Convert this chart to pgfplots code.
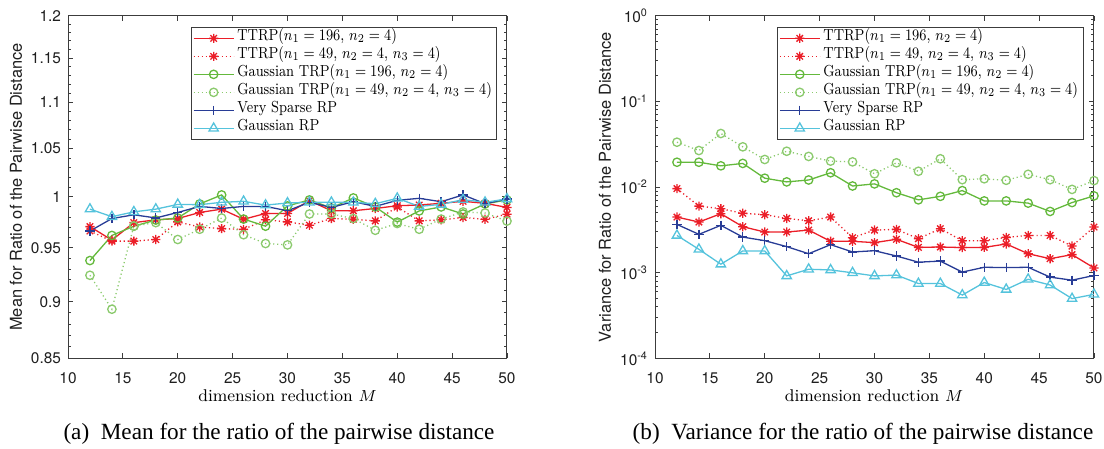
\documentclass[border=0pt]{standalone}
\usepackage{fontspec}
\usepackage{graphicx}
\usepackage{pgfplots}
\pgfplotsset{compat=1.18}
\newfontfamily\helv{TeX Gyre Heros}
\newfontfamily\tnr{Liberation Serif}
\newcommand\legtxt[1]{\scalebox{0.845}[1]{#1}}
\definecolor{cRed}{RGB}{235,30,40}
\definecolor{cGreen}{RGB}{100,185,60}
\definecolor{cBlue}{RGB}{40,60,150}
\definecolor{cCyan}{RGB}{85,195,220}
\definecolor{axgray}{RGB}{60,60,60}
\pgfdeclareplotmark{mstar}{%
  \pgfpathmoveto{\pgfqpoint{-\pgfplotmarksize}{0pt}}\pgfpathlineto{\pgfqpoint{\pgfplotmarksize}{0pt}}%
  \pgfpathmoveto{\pgfqpoint{0pt}{-\pgfplotmarksize}}\pgfpathlineto{\pgfqpoint{0pt}{\pgfplotmarksize}}%
  \pgfpathmoveto{\pgfqpoint{-0.707\pgfplotmarksize}{-0.707\pgfplotmarksize}}\pgfpathlineto{\pgfqpoint{0.707\pgfplotmarksize}{0.707\pgfplotmarksize}}%
  \pgfpathmoveto{\pgfqpoint{-0.707\pgfplotmarksize}{0.707\pgfplotmarksize}}\pgfpathlineto{\pgfqpoint{0.707\pgfplotmarksize}{-0.707\pgfplotmarksize}}%
  \pgfusepathqstroke}
\pgfplotsset{
  mystyle/.style={
    scale only axis, width=219.5pt, height=171.4pt,
    xmin=10, xmax=50, xtick={10,15,20,25,30,35,40,45,50},
    axis line style={draw=axgray, line width=0.5pt},
    every tick/.style={draw=axgray, line width=0.45pt},
    major tick length=2.6pt, minor tick length=1.5pt,
    tick label style={font=\helv\fontsize{7.7}{8}\selectfont, text=black!88},
    /pgf/number format/assume math mode=true,
    xticklabel style={yshift=-3.5pt},
    legend cell align=left,
    legend style={font=\fontsize{8}{9}\selectfont, draw=axgray, line width=0.5pt, fill=white,
      anchor=north east, inner xsep=1pt, inner ysep=1pt, row sep=0pt, outer sep=0pt,
      nodes={inner xsep=1.5pt, inner ysep=0pt, text height=5.6pt, text depth=3.4pt}},
    legend image code/.code={\draw[mark repeat=2,mark phase=2] plot coordinates {(0pt,0pt) (10pt,0pt) (20pt,0pt)};},
  },
  sA/.style={cRed, line width=0.65pt, mark=mstar, mark size=2.3pt, mark options={solid}},
  sB/.style={cRed, line width=0.65pt, dash pattern=on 0.6pt off 1.4pt, mark=mstar, mark size=2.3pt, mark options={solid}},
  sC/.style={cGreen, line width=0.65pt, mark=o, mark size=2.1pt, mark options={solid}},
  sD/.style={cGreen!75, line width=0.65pt, dash pattern=on 0.6pt off 1.4pt, mark=o, mark size=2.1pt, mark options={solid}},
  sE/.style={cBlue, line width=0.65pt, mark=+, mark size=2.3pt, mark options={solid}},
  sF/.style={cCyan, line width=0.65pt, mark=triangle, mark size=2.7pt, mark options={solid}},
}
\pgfplotstableread{
M   a       b       c      d      e      f
12  0.9706  0.9663  0.938  0.9242 0.9663 0.9878
14  0.9575  0.9565  0.962  0.8932 0.9785 0.9803
16  0.9745  0.9565  0.971  0.9712 0.9822 0.9851
18  0.9772  0.9581  0.977  0.9745 0.9791 0.9878
20  0.9785  0.9752  0.979  0.9581 0.9845 0.9925
22  0.9845  0.9702  0.993  0.9680 0.9905 0.9922
24  0.9878  0.9686  1.002  0.9790 0.9885 0.9946
26  0.9778  0.9679  0.978  0.9627 0.9905 0.9956
28  0.9835  0.9772  0.971  0.9542 0.9905 0.9918
30  0.9835  0.9752  0.991  0.9529 0.9862 0.9939
32  0.9963  0.9719  0.997  0.9830 0.9946 0.9946
34  0.9862  0.9785  0.989  0.9830 0.9895 0.9946
36  0.9862  0.9778  0.999  0.9785 0.9952 0.9946
38  0.9885  0.9762  0.990  0.9670 0.9905 0.9932
40  0.9912  0.9899  0.975  0.9736 0.9966 0.9986
42  0.9919  0.9762  0.986  0.9680 0.9986 0.9905
44  0.9936  0.9772  0.990  0.9780 0.9952 0.9925
46  0.9956  0.9795  0.983  0.9850 1.0020 0.9973
48  0.9936  0.9778  0.993  0.9840 0.9932 0.9946
50  0.9895  0.9828  0.997  0.9760 0.9980 0.9980
}\meantab
\pgfplotstableread{
M   a        b        c       d       e        f
12  0.00447  0.0096   0.0195  0.0334  0.00367  0.00273
14  0.00391  0.0060   0.0195  0.0267  0.00281  0.00188
16  0.00489  0.0056   0.0177  0.0422  0.00358  0.00126
18  0.00345  0.00494  0.0189  0.0295  0.00261  0.00180
20  0.00299  0.00476  0.0127  0.0210  0.00237  0.00180
22  0.00299  0.00431  0.0115  0.0262  0.00202  0.00092
24  0.00315  0.00405  0.0121  0.0228  0.00167  0.00110
26  0.00233  0.00447  0.0147  0.0201  0.00213  0.00108
28  0.00233  0.00257  0.0103  0.0197  0.00175  0.00100
30  0.00225  0.00315  0.0109  0.0143  0.00181  0.00092
32  0.00246  0.00321  0.0086  0.0192  0.00157  0.00094
34  0.00198  0.00250  0.0071  0.0153  0.00133  0.00075
36  0.00200  0.00327  0.0078  0.0214  0.00137  0.00075
38  0.00197  0.00237  0.0091  0.0122  0.00102  0.00055
40  0.00198  0.00237  0.0069  0.0125  0.00116  0.00077
42  0.00217  0.00259  0.0069  0.0120  0.00115  0.00064
44  0.00167  0.00273  0.0065  0.0141  0.00116  0.00084
46  0.00146  0.00273  0.0052  0.0122  0.00089  0.00072
48  0.00163  0.00205  0.0066  0.0094  0.00082  0.00050
50  0.00114  0.00342  0.0079  0.0119  0.00093  0.00056
}\vartab
\begin{document}
\begin{tikzpicture}
\useasboundingbox (0,0) rectangle (552pt,224.5pt);
\begin{axis}[ymode=log, mystyle, at={(34pt,45.25pt)}, anchor=south west,
  ymin=0.85, ymax=1.2,
  ytick={0.85,0.9,0.95,1,1.05,1.1,1.15,1.2},
  yticklabels={0.85,0.9,0.95,1,1.05,1.1,1.15,1.2},
  minor ytick={0.86,0.87,0.88,0.89,0.91,0.92,0.93,0.94,0.96,0.97,0.98,0.99,1.01,1.02,1.03,1.04,1.06,1.07,1.08,1.09,1.11,1.12,1.13,1.14,1.16,1.17,1.18,1.19},
  legend style={at={(0.977,0.966)}},
]
\addplot[sA] table[x=M,y=a] {\meantab};
\addplot[sB] table[x=M,y=b] {\meantab};
\addplot[sC] table[x=M,y=c] {\meantab};
\addplot[sD] table[x=M,y=d] {\meantab};
\addplot[sE] table[x=M,y=e] {\meantab};
\addplot[sF] table[x=M,y=f] {\meantab};
\legend{{\legtxt{TTRP$(n_1=196$, $n_2=4)$}}, {\legtxt{TTRP$(n_1=49$, $n_2=4$, $n_3=4)$}}, {\legtxt{Gaussian TRP$(n_1=196$, $n_2=4)$}}, {\legtxt{Gaussian TRP$(n_1=49$, $n_2=4$, $n_3=4)$}}, {\legtxt{Very Sparse RP}}, {\legtxt{Gaussian RP}}}
\end{axis}
\begin{axis}[ymode=log, mystyle, at={(327.5pt,45.25pt)}, anchor=south west,
  ymin=1e-4, ymax=1,
  ytick={1e-4,1e-3,1e-2,1e-1,1},
  yticklabels={10\textsuperscript{-4},10\textsuperscript{-3},10\textsuperscript{-2},10\textsuperscript{-1},10\textsuperscript{0}},
  minor ytick={2e-4,3e-4,4e-4,5e-4,6e-4,7e-4,8e-4,9e-4,2e-3,3e-3,4e-3,5e-3,6e-3,7e-3,8e-3,9e-3,2e-2,3e-2,4e-2,5e-2,6e-2,7e-2,8e-2,9e-2,2e-1,3e-1,4e-1,5e-1,6e-1,7e-1,8e-1,9e-1},
  legend style={at={(0.975,0.966)}},
]
\addplot[sA] table[x=M,y=a] {\vartab};
\addplot[sB] table[x=M,y=b] {\vartab};
\addplot[sC] table[x=M,y=c] {\vartab};
\addplot[sD] table[x=M,y=d] {\vartab};
\addplot[sE] table[x=M,y=e] {\vartab};
\addplot[sF] table[x=M,y=f] {\vartab};
\legend{{\legtxt{TTRP$(n_1=196$, $n_2=4)$}}, {\legtxt{TTRP$(n_1=49$, $n_2=4$, $n_3=4)$}}, {\legtxt{Gaussian TRP$(n_1=196$, $n_2=4)$}}, {\legtxt{Gaussian TRP$(n_1=49$, $n_2=4$, $n_3=4)$}}, {\legtxt{Very Sparse RP}}, {\legtxt{Gaussian RP}}}
\end{axis}
\node[rotate=90, font=\helv\fontsize{8.2}{9}\selectfont, text=black!88] at (8pt,131pt) {Mean for Ratio of the Pairwise Distance};
\node[rotate=90, font=\helv\fontsize{8.2}{9}\selectfont, text=black!88] at (302.5pt,131pt) {Variance for Ratio of the Pairwise Distance};
\node[anchor=base, font=\fontsize{8.5}{10}\selectfont] at (143.75pt,23.6pt) {dimension reduction $M$};
\node[anchor=base, font=\fontsize{8.5}{10}\selectfont] at (437pt,23.6pt) {dimension reduction $M$};
\node[anchor=base, font=\tnr\fontsize{11.6}{13}\selectfont] at (139.5pt,4.5pt) {(a)\enspace Mean for the ratio of the pairwise distance};
\node[anchor=base, font=\tnr\fontsize{11.6}{13}\selectfont] at (431.5pt,4.5pt) {(b)\enspace Variance for the ratio of the pairwise distance};
\end{tikzpicture}
\end{document}
